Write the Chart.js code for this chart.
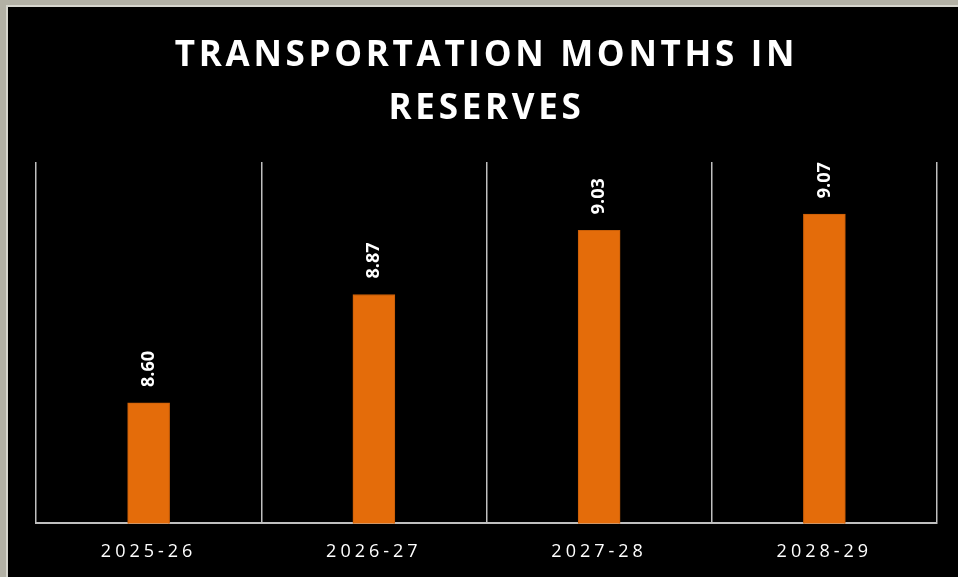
<!DOCTYPE html>
<html>
<head>
<meta charset="utf-8">
<script src="https://cdn.jsdelivr.net/npm/chart.js@4.4.1/dist/chart.umd.min.js"></script>
<style>
  html, body { margin: 0; padding: 0; background: #b3b1a5; overflow: hidden; }
  #panel {
    position: absolute; left: 6px; top: 5px;
    width: 960px; height: 600px;
    border: 2px solid #d6d5cd; background: #000;
  }
  #wrap { position: absolute; left: 0; top: 0; width: 950px; height: 588px; }
</style>
</head>
<body>
<div id="panel"><div id="wrap"><canvas id="reservesChart"></canvas></div></div>
<script>
// Podaci grafikona
const years = ['2025-26', '2026-27', '2027-28', '2028-29'];
const monthsInReserves = [8.60, 8.87, 9.03, 9.07];
const titleLines = ['TRANSPORTATION MONTHS IN', 'RESERVES'];

const fontFamily = "'Open Sans', 'Liberation Sans', sans-serif";

// Razmak slova za naslov i oznake osi, vrijednosti iznad stupaca
const spacingPlugin = {
  id: 'spacing',
  beforeDraw(chart) {
    chart.ctx.letterSpacing = '3.7px';
  },
  beforeDatasetsDraw(chart) {
    chart.ctx.letterSpacing = '4px';
  },
  afterDatasetsDraw(chart) {
    const ctx = chart.ctx;
    const meta = chart.getDatasetMeta(0);
    ctx.save();
    ctx.letterSpacing = '0px';
    ctx.fillStyle = '#ffffff';
    ctx.font = 'bold 18px ' + fontFamily;
    ctx.textAlign = 'left';
    ctx.textBaseline = 'middle';
    meta.data.forEach((bar, i) => {
      ctx.save();
      ctx.translate(bar.x, bar.y - 16);
      ctx.rotate(-Math.PI / 2);
      ctx.fillText(monthsInReserves[i].toFixed(2), 0, 0);
      ctx.restore();
    });
    ctx.restore();
  }
};

const ctx = document.getElementById('reservesChart').getContext('2d');
const reservesChart = new Chart(ctx, {
  type: 'bar',
  data: {
    labels: years,
    datasets: [{
      label: 'Months in reserves',
      data: monthsInReserves,
      backgroundColor: '#e46c0a',
      borderColor: '#c85e08',
      borderWidth: 1,
      barThickness: 42
    }]
  },
  options: {
    responsive: true,
    maintainAspectRatio: false,
    animation: false,
    layout: {
      padding: { left: 28, right: 21, top: 0, bottom: 14 }
    },
    plugins: {
      legend: { display: false },
      tooltip: { enabled: false },
      title: {
        display: true,
        text: titleLines,
        color: '#ffffff',
        font: { family: fontFamily, size: 35, weight: 'bold', lineHeight: 1.5 },
        padding: { top: 23, bottom: 27 }
      }
    },
    scales: {
      x: {
        grid: { color: '#bfbfbf', lineWidth: 1.5, drawTicks: false, offset: true },
        border: { color: '#bfbfbf', width: 2 },
        ticks: {
          z: 1,
          color: '#ffffff',
          padding: 18,
          maxRotation: 0,
          autoSkip: false,
          font: { family: fontFamily, size: 18 }
        }
      },
      y: {
        display: false,
        min: 8.3,
        max: 9.2
      }
    }
  },
  plugins: [spacingPlugin]
});
</script>
</body>
</html>
